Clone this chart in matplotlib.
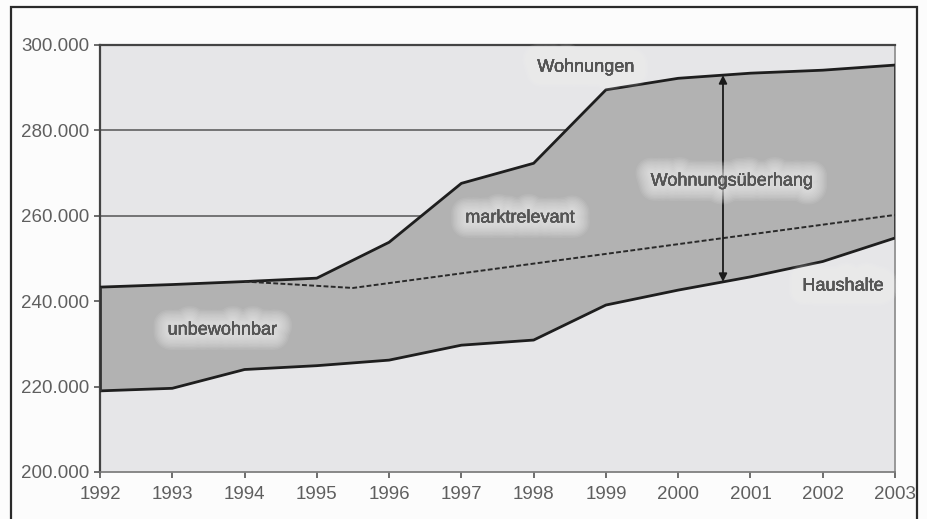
import matplotlib.pyplot as plt
import matplotlib.patheffects as pe
import numpy as np
from matplotlib.patches import Rectangle
from matplotlib.ticker import FuncFormatter

jahre = np.arange(1992, 2004)
wohnungen = [243300, 243900, 244600, 245400, 253800, 267600, 272300,
             289500, 292200, 293400, 294100, 295300]
haushalte = [219000, 219600, 224000, 224900, 226200, 229700, 230900,
             239100, 242600, 245700, 249300, 254800]
# gestrichelte Linie (marktrelevant / unbewohnbar)
grenze_x = [1994, 1995.5, 2003]
grenze_y = [244600, 243100, 260200]

y_ticks = np.arange(200000, 300001, 20000)
pfeil_x = 2000.62

plt.rcParams['font.family'] = ['Liberation Sans', 'DejaVu Sans']

fig = plt.figure(figsize=(9.28, 5.19), dpi=100, facecolor='#fcfcfc')
ax = fig.add_axes([100 / 928, 1 - 472 / 519, 795 / 928, 427 / 519])

hell = '#e6e6e8'
dunkel = '#b2b2b2'
ax.set_facecolor(hell)

ax.set_axisbelow(True)
ax.yaxis.grid(True, color='#555555', linewidth=1.1)

# Flaechen wie im Excel-Diagramm
ax.fill_between(jahre, 200000, haushalte, color=hell, zorder=1, linewidth=0)
ax.fill_between(jahre, haushalte, wohnungen, color=dunkel, zorder=1, linewidth=0)

ax.plot(jahre, wohnungen, color='#1e1e1e', linewidth=2.0, zorder=3)
ax.plot(jahre, haushalte, color='#1e1e1e', linewidth=2.0, zorder=3)
ax.vlines([jahre[0], jahre[-1]], [haushalte[0], haushalte[-1]],
          [wohnungen[0], wohnungen[-1]], color='#333333', linewidth=2.0, zorder=3)
ax.plot(grenze_x, grenze_y, color='#2a2a2a', linewidth=1.4,
        linestyle=(0, (2.5, 1.2)), zorder=3)

# Doppelpfeil Wohnungsueberhang
y_unten = np.interp(pfeil_x, jahre, haushalte)
y_oben = np.interp(pfeil_x, jahre, wohnungen)
ax.annotate('', xy=(pfeil_x, y_oben), xytext=(pfeil_x, y_unten),
            arrowprops=dict(arrowstyle='<|-|>', color='#1a1a1a', lw=1.3,
                            mutation_scale=12, shrinkA=0, shrinkB=0),
            zorder=4)

# weicher heller Schein hinter den Texten
glow = [pe.withStroke(linewidth=w, foreground='#f4f4f4', alpha=0.09)
        for w in range(22, 1, -2)]
glow.append(pe.Normal())
beschriftung = [
    ('Wohnungen', 1998.72, 294800),
    ('Wohnungsüberhang', 2000.74, 268150),
    ('marktrelevant', 1997.81, 259500),
    ('unbewohnbar', 1993.69, 233250),
    ('Haushalte', 2002.28, 243560),
]
for txt, x, y in beschriftung:
    t = ax.text(x, y, txt, ha='center', va='center', fontsize=13,
                color='#555555', zorder=5)
    t.set_path_effects(glow)

ax.set_xlim(1992, 2003)
ax.set_ylim(200000, 300000)
ax.set_xticks(jahre)
ax.set_yticks(y_ticks)
ax.yaxis.set_major_formatter(FuncFormatter(lambda v, p: f'{int(v):,}'.replace(',', '.')))
ax.tick_params(axis='both', labelsize=13.5, labelcolor='#5f5f5f', color='#555555',
               length=4, width=1.2)
ax.tick_params(axis='x', pad=6)

ax.spines['left'].set_color('#444444')
ax.spines['left'].set_linewidth(1.6)
ax.spines['top'].set_color('#444444')
ax.spines['top'].set_linewidth(1.6)
ax.spines['right'].set_color('#8a8a8a')
ax.spines['right'].set_linewidth(1.2)
ax.spines['bottom'].set_color('#777777')
ax.spines['bottom'].set_linewidth(1.2)

# Rahmen um die Grafik
rahmen = Rectangle((11 / 928, -0.05), 906 / 928, 1.05 - 7 / 519,
                   transform=fig.transFigure, fill=False,
                   edgecolor='#2a2a2a', linewidth=1.6)
fig.patches.append(rahmen)

fig.savefig('out.png', dpi=100, facecolor=fig.get_facecolor())
